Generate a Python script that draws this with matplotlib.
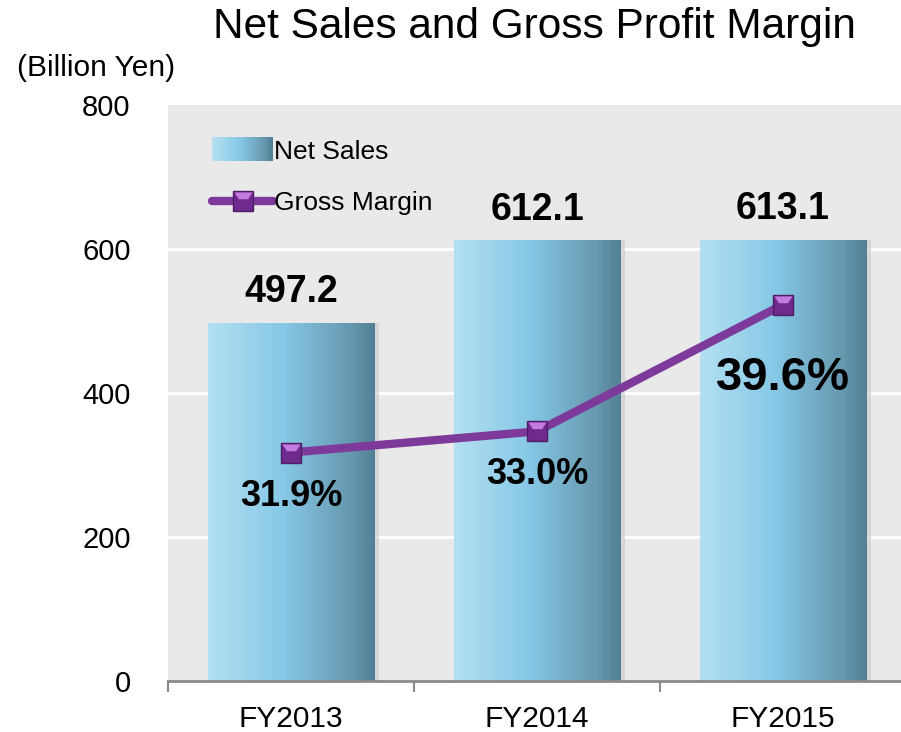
import numpy as np
import matplotlib
matplotlib.use('Agg')
import matplotlib.pyplot as plt
from matplotlib.colors import LinearSegmentedColormap
from matplotlib.patches import Rectangle
from matplotlib.legend_handler import HandlerBase, HandlerTuple
from matplotlib.lines import Line2D

plt.rcParams['font.family'] = ['Liberation Sans', 'DejaVu Sans']

# data
years = ['FY2013', 'FY2014', 'FY2015']
net_sales = [497.2, 612.1, 613.1]
gross_margin = [31.9, 33.0, 39.6]
sales_labels = ['497.2', '612.1', '613.1']
margin_labels = ['31.9%', '33.0%', '39.6%']

# bar gradient, light on the left, dark on the right
bar_cmap = LinearSegmentedColormap.from_list(
    'bars', [(0, '#B4E0F2'), (0.45, '#86C8E6'), (0.85, '#6799B0'), (1.0, '#527F95')])
purple = '#7E3A9A'
# bevelled square marker: light trapezoid on top
bevel = [(-1, 1), (1, 1), (0.5, 0.25), (-0.5, 0.25), (-1, 1)]

fig = plt.figure(figsize=(9.01, 7.32), dpi=100)
ax = fig.add_axes([168/901, 1-681/732, 738/901, 576/732])
ax.set_facecolor('#E9E9E9')

x = np.arange(len(years))
ax.set_xlim(-0.5, 2.5)
ax.set_ylim(0, 800)

# white gridlines
for gy in [200, 400, 600]:
    ax.axhline(gy, color='white', lw=2, zorder=0.5)

bw = 0.675
bars = ax.bar(x, net_sales, width=bw, color='none', zorder=2)
grad = np.linspace(0, 1, 256).reshape(1, -1)
for b in bars:
    x0, y0 = b.get_x(), b.get_y()
    w, h = b.get_width(), b.get_height()
    # soft shadow on the right side
    ax.add_patch(Rectangle((x0 + w, y0), 0.02, h, facecolor='#CFCFCF', edgecolor='none',
                           alpha=0.7, zorder=1.5))
    im = ax.imshow(grad, cmap=bar_cmap, aspect='auto', extent=(x0, x0 + w, y0, y0 + h),
                   zorder=2, interpolation='bicubic')
    im.set_clip_path(b)

for xi, v, t in zip(x, net_sales, sales_labels):
    ax.annotate(t, (xi, v), xytext=(0, 22), textcoords='offset points', ha='center',
                va='center', fontsize=27, fontweight='bold', zorder=5)

# gross margin on a hidden second axis
ax2 = ax.twinx()
ax2.set_ylim(20, 50)
ax2.axis('off')
ax2.plot(x, gross_margin, color=purple, lw=6, solid_capstyle='round', zorder=3)
ax2.plot(x, gross_margin, ls='none', marker='s', ms=15, mfc='#6E2A8C', mec='#4E1D66',
         mew=1, zorder=4)
ax2.plot(x, gross_margin, ls='none', marker=bevel, ms=13, mfc='#C47BE0', mec='none',
         zorder=4.5)

label_off = [-32, -31, -53]
label_size = [26, 26, 34]
for xi, v, t, off, fs in zip(x, gross_margin, margin_labels, label_off, label_size):
    ax2.annotate(t, (xi, v), xytext=(0, off), textcoords='offset points', ha='center',
                 va='center', fontsize=fs, fontweight='bold', zorder=5)

# axes styling
for s in ['left', 'right', 'top']:
    ax.spines[s].set_visible(False)
ax.spines['bottom'].set_color('#8A8A8A')
ax.spines['bottom'].set_linewidth(2)
ax.set_xticks(x)
ax.set_xticklabels(years, fontsize=21.5)
ax.set_xticks([-0.5, 0.5, 1.5, 2.5], minor=True)
ax.tick_params(axis='x', which='major', length=0, pad=17)
ax.tick_params(axis='x', which='minor', length=8, width=1.5, color='#8A8A8A')
ax.set_yticks([0, 200, 400, 600, 800])
ax.tick_params(axis='y', length=0, labelsize=21, pad=27)

# legend
class GradHandler(HandlerBase):
    def create_artists(self, legend, orig_handle, xdescent, ydescent, width, height,
                       fontsize, trans):
        n = 30
        out = []
        for i in range(n):
            out.append(Rectangle((-xdescent + i*width/n, -ydescent - 2), width/n*1.1, height + 4,
                                 facecolor=bar_cmap(i/(n-1)), edgecolor='none', transform=trans))
        return out

bar_handle = Rectangle((0, 0), 1, 1)
line_h = Line2D([], [], color=purple, lw=6, solid_capstyle='round', marker='s', ms=15,
                mfc='#6E2A8C', mec='#4E1D66')
tri_h = Line2D([], [], ls='none', marker=bevel, ms=13, mfc='#C47BE0', mec='none')
ax.legend([bar_handle, (line_h, tri_h)], ['Net Sales', 'Gross Margin'],
          handler_map={Rectangle: GradHandler(), tuple: HandlerTuple(ndivide=1)},
          loc='upper left', bbox_to_anchor=(0.06, 0.94), frameon=False, fontsize=19,
          handlelength=2.3, handletextpad=0.05, labelspacing=1.05, borderpad=0,
          borderaxespad=0)

fig.text(534/901, 1-27/732, 'Net Sales and Gross Profit Margin', ha='center', va='center',
         fontsize=30.5)
fig.text(96/901, 1-68/732, '(Billion Yen)', ha='center', va='center', fontsize=21.5)

fig.savefig('out.png', dpi=100)
